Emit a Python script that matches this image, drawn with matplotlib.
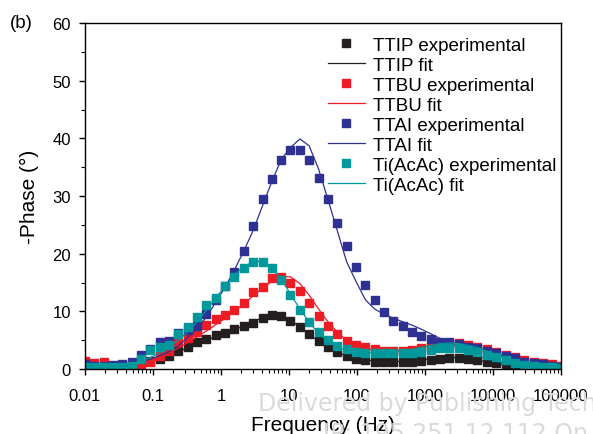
import matplotlib
matplotlib.use('Agg')
import matplotlib.pyplot as plt
from matplotlib.ticker import LogLocator, MultipleLocator, FixedLocator, NullFormatter

plt.rcParams['font.family'] = ['Liberation Sans', 'DejaVu Sans']

# frequencies (Hz), 52 points from 0.01 Hz to 100 kHz
freq = [0.01, 0.0137, 0.0188, 0.0258, 0.0354, 0.0486, 0.0667, 0.0915, 0.126, 0.172,
        0.237, 0.325, 0.446, 0.612, 0.839, 1.15, 1.58, 2.17, 2.97, 4.08,
        5.6, 7.68, 10.5, 14.5, 19.8, 27.2, 37.4, 51.3, 70.4, 96.6,
        133, 182, 250, 343, 470, 646, 886, 1220, 1670, 2290,
        3140, 4310, 5910, 8110, 11100, 15300, 21000, 28800, 39500, 54200,
        74400, 100000]

# -phase (deg), measured
ttip_exp = [0.5, 0.4, 0.4, 0.4, 0.5, 0.7, 1.0, 1.4, 1.7, 2.3,
            3.2, 3.8, 4.6, 5.2, 5.9, 6.2, 7.0, 7.5, 8.0, 8.8,
            9.4, 9.2, 8.4, 7.2, 6.0, 4.8, 3.8, 3.0, 2.3, 1.7,
            1.6, 1.3, 1.2, 1.2, 1.2, 1.3, 1.4, 1.6, 1.8, 1.9,
            1.9, 1.8, 1.5, 1.2, 1.0, 0.8, 0.6, 0.5, 0.4, 0.3,
            0.3, 0.2]
ttbu_exp = [1.4, 1.0, 1.2, 0.3, 0.3, 0.3, 0.6, 1.3, 2.3, 3.2,
            4.6, 5.3, 6.4, 7.7, 8.6, 9.4, 10.2, 11.4, 13.3, 14.2,
            15.8, 16.0, 15.0, 13.5, 11.4, 9.2, 7.4, 6.0, 4.9, 4.2,
            3.8, 3.4, 3.2, 3.2, 3.2, 3.3, 3.7, 4.0, 4.3, 4.5,
            4.5, 4.2, 3.8, 3.4, 3.0, 2.5, 2.1, 1.6, 1.3, 1.0,
            0.8, 0.6]
ttai_exp = [0.9, 0.6, 0.5, 0.7, 0.8, 1.3, 2.4, 3.5, 4.6, 4.8,
            6.2, 6.8, 7.5, 9.5, 12.0, 14.4, 16.9, 20.5, 24.8, 29.4,
            32.9, 36.2, 37.9, 38.0, 36.2, 33.2, 29.4, 25.3, 21.3, 17.7,
            14.6, 12.0, 9.9, 8.4, 7.4, 6.4, 5.7, 5.2, 4.7, 4.6,
            4.3, 3.9, 3.6, 3.2, 2.7, 2.3, 1.9, 1.3, 1.1, 0.9,
            0.6, 0.4]
tiacac_exp = [0.3, 0.3, 0.3, 0.4, 0.4, 0.6, 1.7, 3.3, 3.8, 4.1,
              6.1, 7.2, 9.0, 11.1, 12.4, 14.4, 15.9, 17.6, 18.5, 18.6,
              17.5, 15.4, 12.8, 10.2, 8.1, 6.5, 5.0, 4.0, 3.5, 3.0,
              2.8, 2.7, 2.7, 2.7, 2.7, 2.8, 3.0, 3.3, 3.7, 3.7,
              3.6, 3.3, 3.0, 2.5, 2.1, 1.6, 1.1, 0.7, 0.5, 0.3,
              0.3, 0.2]

# -phase (deg), fitted
ttip_fit = [0.1, 0.2, 0.2, 0.3, 0.4, 0.6, 0.9, 1.3, 1.8, 2.4,
            3.0, 3.7, 4.3, 5.0, 5.6, 6.2, 6.8, 7.5, 8.2, 8.9,
            9.4, 9.3, 8.5, 7.3, 6.0, 4.8, 3.7, 2.9, 2.3, 1.9,
            1.6, 1.4, 1.3, 1.3, 1.3, 1.4, 1.6, 1.8, 1.9, 2.0,
            1.9, 1.7, 1.5, 1.2, 0.9, 0.7, 0.5, 0.4, 0.3, 0.2,
            0.1, 0.1]
ttbu_fit = [0.1, 0.2, 0.3, 0.4, 0.5, 0.7, 1.0, 1.4, 2.0, 2.8,
            3.6, 4.6, 5.6, 6.6, 7.7, 8.8, 10.0, 11.3, 12.7, 14.0,
            15.2, 16.0, 16.0, 14.8, 12.8, 10.4, 8.2, 6.4, 5.0, 4.1,
            3.6, 3.3, 3.2, 3.2, 3.3, 3.5, 3.8, 4.1, 4.4, 4.5,
            4.4, 4.1, 3.7, 3.2, 2.7, 2.2, 1.7, 1.3, 0.9, 0.6,
            0.4, 0.2]
ttai_fit = [0.1, 0.2, 0.3, 0.4, 0.6, 0.9, 1.3, 1.7, 2.3, 3.0,
            4.0, 5.5, 7.2, 9.0, 11.6, 14.2, 17.2, 20.5, 24.0, 28.3,
            32.5, 36.3, 38.4, 39.9, 38.7, 34.7, 29.4, 24.0, 18.6, 15.2,
            12.0, 10.4, 9.5, 8.8, 8.2, 7.6, 6.9, 6.1, 5.3, 4.5,
            3.8, 3.1, 2.4, 1.8, 1.3, 1.0, 0.7, 0.5, 0.4, 0.3,
            0.2, 0.2]
tiacac_fit = [0.1, 0.2, 0.3, 0.4, 0.6, 0.9, 1.4, 2.0, 2.8, 3.8,
              5.0, 6.5, 8.2, 10.2, 12.3, 14.4, 16.3, 17.8, 18.6, 18.6,
              17.6, 15.6, 13.0, 10.4, 8.1, 6.2, 4.8, 3.8, 3.3, 3.0,
              2.9, 2.8, 2.8, 2.9, 3.1, 3.4, 3.8, 4.1, 4.4, 4.5,
              4.4, 4.1, 3.7, 3.1, 2.5, 1.9, 1.4, 0.9, 0.6, 0.4,
              0.2, 0.1]

series = [
    ('TTIP', ttip_exp, ttip_fit, '#231f20'),
    ('TTBU', ttbu_exp, ttbu_fit, '#ed1c24'),
    ('TTAI', ttai_exp, ttai_fit, '#2e3192'),
    ('Ti(AcAc)', tiacac_exp, tiacac_fit, '#00989a'),
]

fig = plt.figure(figsize=(5.93, 4.35), dpi=100)
ax = fig.add_axes([0.1433, 0.1494, 0.8027, 0.7954])

# watermark of the source pdf
fig.text(0.435, 0.055, 'Delivered by Publishing Tech', fontsize=17, color='#dadada',
         family='DejaVu Sans', zorder=0)
fig.text(0.545, -0.014, 'IP: 195.251.12.112 On', fontsize=17, color='#dadada',
         family='DejaVu Sans', zorder=0)

for name, exp, fit, c in series:
    ax.plot(freq, exp, 's', ms=5.8, color=c, mec=c, label=name + ' experimental')
    ax.plot(freq, fit, '-', lw=0.9, color=c, label=name + ' fit')

ax.set_xscale('log')
ax.set_xlim(0.01, 100000)
ax.set_ylim(0, 60)
ax.xaxis.set_major_locator(FixedLocator([0.01, 0.1, 1, 10, 100, 1000, 10000, 100000]))
ax.set_xticklabels(['0.01', '0.1', '1', '10', '100', '1000', '10000', '100000'])
ax.xaxis.set_minor_locator(LogLocator(base=10, subs=range(2, 10), numticks=20))
ax.xaxis.set_minor_formatter(NullFormatter())
ax.yaxis.set_major_locator(MultipleLocator(10))
ax.yaxis.set_minor_locator(MultipleLocator(5))

ax.tick_params(which='major', direction='out', length=4.5, width=1, labelsize=12, top=False, right=False)
ax.tick_params(which='minor', direction='out', length=2.8, width=0.8, top=False, right=False)
ax.tick_params(axis='x', which='major', pad=9)
ax.tick_params(axis='y', which='major', pad=5.5)
for s in ax.spines.values():
    s.set_linewidth(1.0)

ax.set_xlabel('Frequency (Hz)', fontsize=15, labelpad=9)
ax.set_ylabel('-Phase (°)', fontsize=15, labelpad=10)
fig.text(0.017, 0.945, '(b)', fontsize=13.5, va='center')

ax.legend(loc='upper left', bbox_to_anchor=(0.5105, 0.960), frameon=False, fontsize=13.5,
          handlelength=1.95, handletextpad=0.45, labelspacing=0.15,
          borderpad=0.0, borderaxespad=0.0)

fig.savefig('out.png', dpi=100)
